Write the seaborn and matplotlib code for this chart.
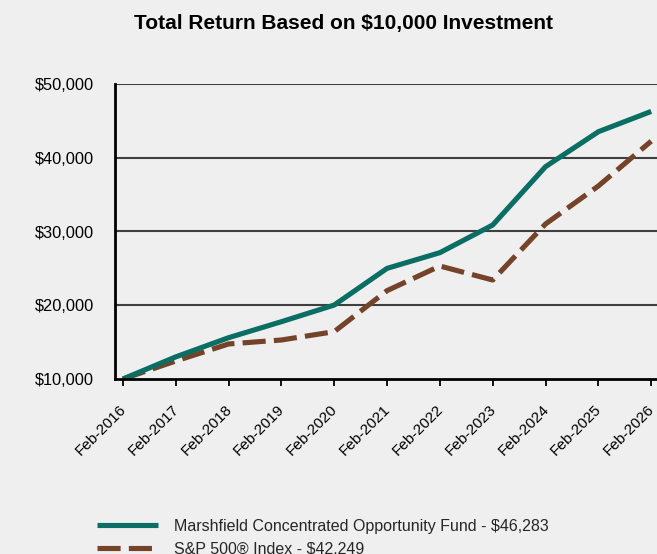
import matplotlib
matplotlib.use("Agg")
import matplotlib.pyplot as plt
import matplotlib.transforms as mtransforms
import seaborn as sns
import pandas as pd
import numpy as np

years = ["Feb-2016", "Feb-2017", "Feb-2018", "Feb-2019", "Feb-2020", "Feb-2021",
         "Feb-2022", "Feb-2023", "Feb-2024", "Feb-2025", "Feb-2026"]
fund = [10000, 13000, 15600, 17770, 20030, 25000, 27130, 30880, 38790, 43530, 46283]
sp500 = [10000, 12440, 14750, 15290, 16420, 21980, 25320, 23420, 31020, 36170, 42249]
fund_label = "Marshfield Concentrated Opportunity Fund - $46,283"
sp_label = "S&P 500\u00ae Index - $42,249"
yticks = [10000, 20000, 30000, 40000, 50000]
ytick_labels = ["$10,000", "$20,000", "$30,000", "$40,000", "$50,000"]
title = "Total Return Based on $10,000 Investment"

sns.set_theme(style="white")
plt.rcParams['font.family'] = ['Liberation Sans', 'DejaVu Sans']

bg = "#efefef"
teal = "#0b6e64"
brown = "#744329"

fig = plt.figure(figsize=(6.57, 5.54), dpi=100, facecolor=bg)
ax = fig.add_axes([115/657, 175/554, 542/657, 295/554], facecolor=bg)

df = pd.DataFrame({"x": np.arange(len(years)), "fund": fund, "sp": sp500})
sns.lineplot(data=df, x="x", y="fund", ax=ax, color=teal, linewidth=3.7,
             label=fund_label, solid_capstyle="butt", zorder=4)
sns.lineplot(data=df, x="x", y="sp", ax=ax, color=brown, linewidth=3.7,
             label=sp_label, zorder=3)
ax.lines[1].set_dashes([4.5, 1.6])

ax.set_xlim(-0.15, 10.11)
ax.set_ylim(10000, 50000)
ax.set_yticks(yticks)
ax.set_yticklabels(ytick_labels, fontsize=11.8, color="black")
ax.set_xticks(np.arange(len(years)))
ax.set_xticklabels(years, rotation=45, ha="right", va="top",
                   rotation_mode="anchor", fontsize=11, color="black")
ax.set_xlabel("")
ax.set_ylabel("")
ax.tick_params(axis="x", bottom=True, length=5, width=1.3, color="black",
               direction="out", pad=10.5)
ax.tick_params(axis="y", left=False, length=0, pad=15)

offset = mtransforms.ScaledTranslation(-4/100, -2/100, fig.dpi_scale_trans)
for lab in ax.get_xticklabels():
    lab.set_transform(lab.get_transform() + offset)

for y in yticks[1:]:
    ax.axhline(y, color="#3f3f3f", linewidth=1.5, zorder=1)

for s in ["top", "right"]:
    ax.spines[s].set_visible(False)
for s in ["left", "bottom"]:
    ax.spines[s].set_color("black")
    ax.spines[s].set_linewidth(2)
    ax.spines[s].set_zorder(5)

ax.get_legend().remove()
handles, labels = ax.get_legend_handles_labels()
leg = fig.legend(handles, labels, loc="upper left",
                 bbox_to_anchor=(97/657, 1 - 519/554), frameon=False,
                 fontsize=11.5, handlelength=3.8, handletextpad=1.05,
                 labelspacing=0.5, borderaxespad=0, borderpad=0)

fig.text(0.523, 1 - 23/554, title, ha="center", va="center",
         fontsize=15, fontweight="bold", color="black")

fig.savefig("out.png", dpi=100, facecolor=bg)
